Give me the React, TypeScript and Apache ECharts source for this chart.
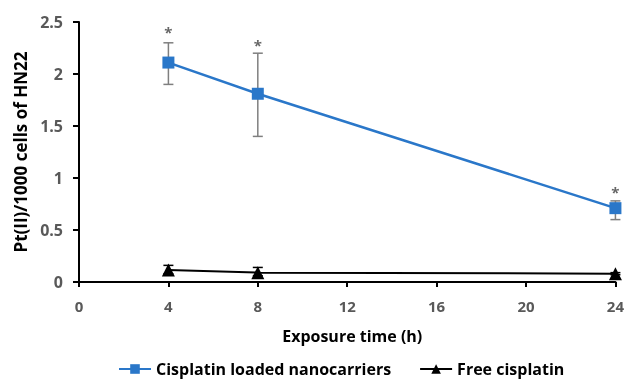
import React, { useEffect, useRef } from "react";
import * as echarts from "echarts";

const hours = [4, 8, 24];
const nanoValues = [2.11, 1.81, 0.71];
const nanoLow = [1.9, 1.4, 0.6];
const nanoHigh = [2.3, 2.2, 0.78];
const freeValues = [0.115, 0.09, 0.08];
const freeLow = [0.08, 0.06, 0.07];
const freeHigh = [0.16, 0.14, 0.09];
const starY = [2.4, 2.28, 0.87];
const seriesNames = ["Cisplatin loaded nanocarriers", "Free cisplatin"];

const FONT = "'Open Sans', sans-serif";

function errRender(color: string) {
  return (params: any, api: any) => {
    const x = api.value(0);
    const lo = api.coord([x, api.value(1)]);
    const hi = api.coord([x, api.value(2)]);
    const w = 5;
    const style = { stroke: color, lineWidth: 1.5 };
    return {
      type: "group",
      children: [
        { type: "line", shape: { x1: lo[0], y1: lo[1], x2: hi[0], y2: hi[1] }, style },
        { type: "line", shape: { x1: lo[0] - w, y1: lo[1], x2: lo[0] + w, y2: lo[1] }, style },
        { type: "line", shape: { x1: hi[0] - w, y1: hi[1], x2: hi[0] + w, y2: hi[1] }, style },
      ],
    };
  };
}

export default function App() {
  const ref = useRef<HTMLDivElement>(null);
  useEffect(() => {
    const chart = echarts.init(ref.current!, null, { renderer: "svg" });
    chart.setOption({
      animation: false,
      grid: { left: 79, right: 10, top: 22, bottom: 98 },
      xAxis: {
        type: "value",
        min: 0,
        max: 24,
        interval: 4,
        name: "Exposure time (h)",
        nameLocation: "middle",
        nameGap: 46,
        nameTextStyle: { fontFamily: FONT, fontWeight: "bold", fontSize: 16, color: "#000", padding: [0, 0, 0, 10] },
        axisLine: { lineStyle: { color: "#000", width: 2 } },
        axisTick: { show: true, length: 5, lineStyle: { color: "#000", width: 2 } },
        axisLabel: { margin: 16, fontFamily: FONT, fontWeight: "bold", fontSize: 15, color: "#595959" },
        splitLine: { show: false },
      },
      yAxis: {
        type: "value",
        min: 0,
        max: 2.5,
        interval: 0.5,
        name: "Pt(II)/1000 cells of HN22",
        nameLocation: "middle",
        nameRotate: 90,
        nameGap: 46,
        nameTextStyle: { fontFamily: FONT, fontWeight: "bold", fontSize: 17, color: "#000" },
        axisLine: { show: true, lineStyle: { color: "#000", width: 2 } },
        axisTick: { show: true, length: 6, lineStyle: { color: "#000", width: 2 } },
        axisLabel: { margin: 16, fontFamily: FONT, fontWeight: "bold", fontSize: 16, color: "#595959" },
        splitLine: { show: false },
      },
      legend: {
        top: 356,
        left: 113,
        itemWidth: 32,
        itemHeight: 12,
        itemGap: 28,
        data: seriesNames,
        textStyle: { fontFamily: FONT, fontWeight: "bold", fontSize: 16, color: "#000" },
      },
      series: [
        {
          type: "custom",
          name: "nanoErr",
          renderItem: errRender("#7f7f7f"),
          data: hours.map((h, i) => [h, nanoLow[i], nanoHigh[i]]),
          z: 1,
        },
        {
          type: "custom",
          name: "freeErr",
          renderItem: errRender("#000"),
          data: hours.map((h, i) => [h, freeLow[i], freeHigh[i]]),
          z: 1,
        },
        {
          type: "line",
          name: seriesNames[0],
          data: hours.map((h, i) => [h, nanoValues[i]]),
          symbol: "rect",
          symbolSize: 12,
          color: "#2a77c9",
          lineStyle: { width: 2.5, color: "#2a77c9" },
          itemStyle: { color: "#2a77c9" },
          z: 3,
        },
        {
          type: "line",
          name: seriesNames[1],
          data: hours.map((h, i) => [h, freeValues[i]]),
          symbol: "triangle",
          symbolSize: 13,
          color: "#000",
          lineStyle: { width: 2, color: "#000" },
          itemStyle: { color: "#000" },
          z: 3,
        },
        {
          type: "scatter",
          name: "stars",
          data: hours.map((h, i) => [h, starY[i]]),
          symbolSize: 0,
          label: {
            show: true,
            position: "inside",
            formatter: "*",
            fontFamily: FONT,
            fontSize: 15,
            fontWeight: "bold",
            color: "#404040",
          },
          z: 4,
        },
      ],
    });
    return () => chart.dispose();
  }, []);
  return (
    <div
      ref={ref}
      style={{ position: "fixed", left: 0, top: 0, width: 627, height: 380 }}
    />
  );
}
